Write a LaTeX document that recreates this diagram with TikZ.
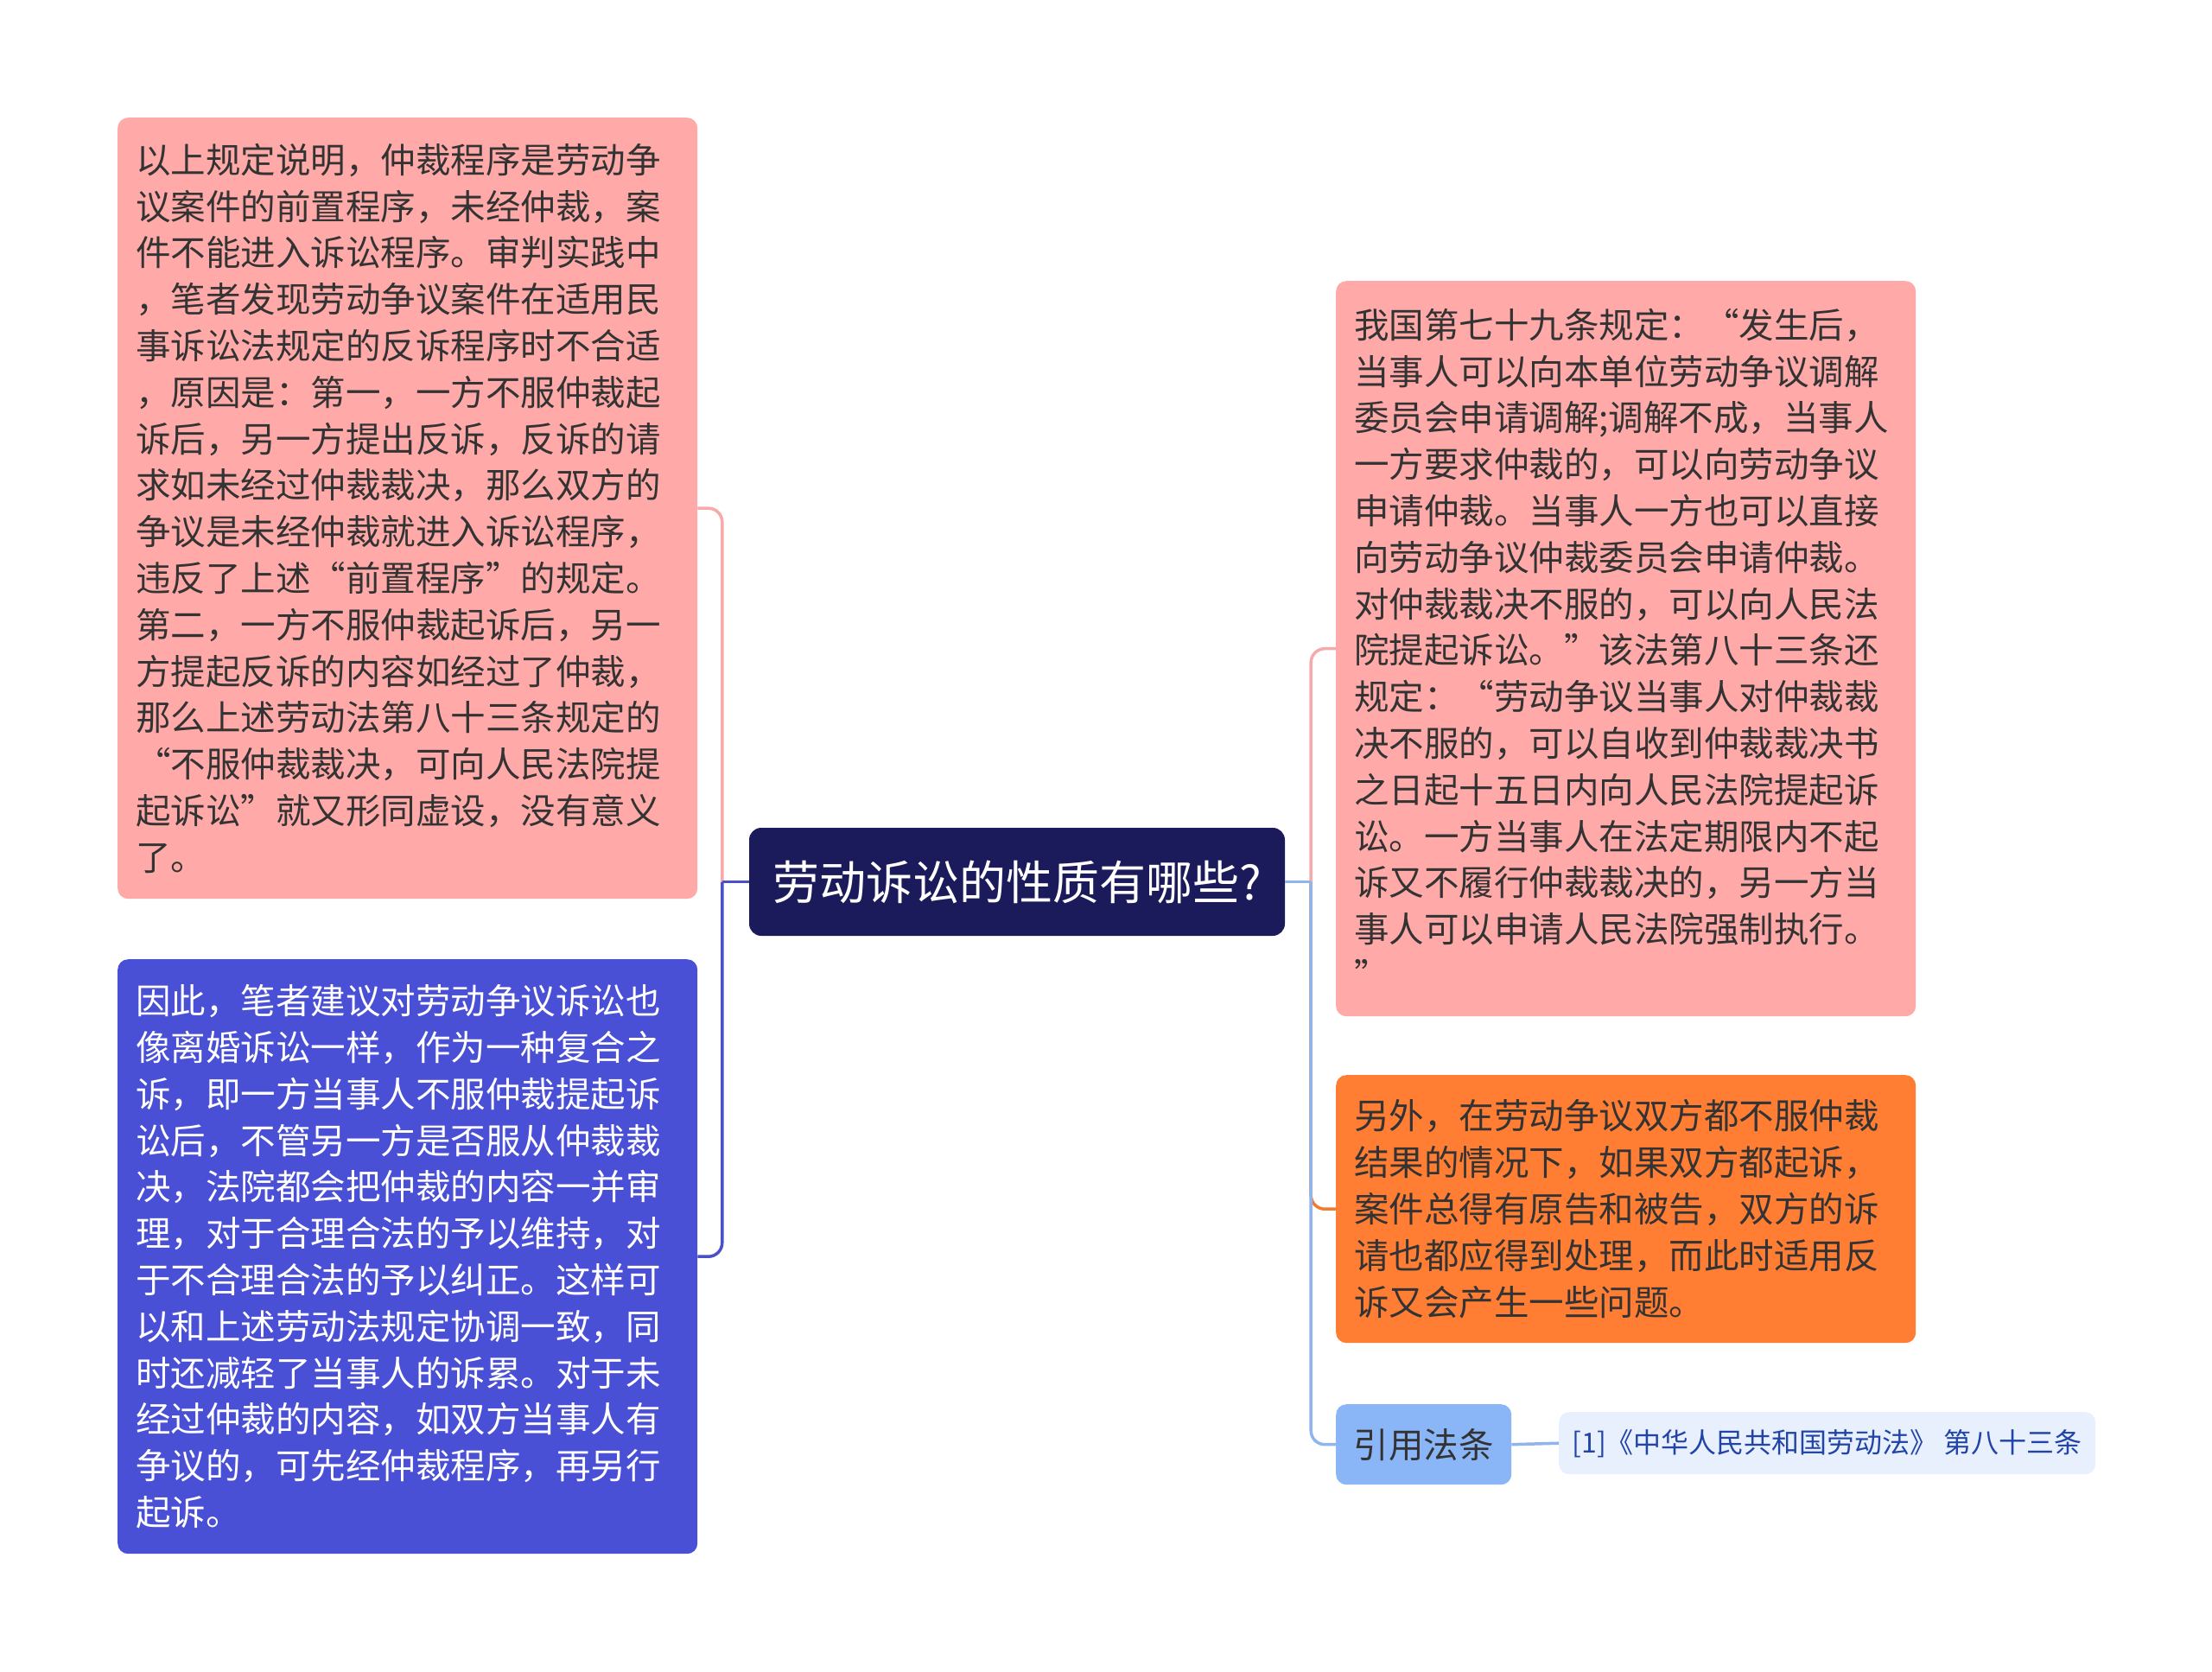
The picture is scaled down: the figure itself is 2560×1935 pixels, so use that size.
\documentclass[tikz,border=0pt]{standalone}
\usepackage{fontspec}
\setmainfont{Noto Sans CJK SC}
\definecolor{pinkbox}{HTML}{FFAAA8}
\definecolor{pinkline}{HTML}{F6AAA9}
\definecolor{bluebox}{HTML}{4A50D5}
\definecolor{blueline}{HTML}{4A50C8}
\definecolor{navy}{HTML}{1B1A5A}
\definecolor{orangebox}{HTML}{FF7E33}
\definecolor{orangeline}{HTML}{F27B30}
\definecolor{citeblue}{HTML}{8AB6F8}
\definecolor{lightline}{HTML}{8FB4EE}
\definecolor{reffill}{HTML}{E8F0FD}
\definecolor{reftext}{HTML}{2144A6}
\definecolor{textdark}{HTML}{333333}
\tikzset{
  box/.style={rounded corners=12pt, anchor=north west, inner xsep=21pt, inner ysep=0pt,
    align=left, font=\fontsize{40.5}{53.8}\selectfont},
  conn/.style={line width=3.5pt, rounded corners=16pt},
}
\begin{document}
\begin{tikzpicture}[x=1pt,y=-1pt]
\fill[white] (0,0) rectangle (2560,1935);
\useasboundingbox (0,0) rectangle (2560,1935);

% central topic
\node[fill=navy, rounded corners=14pt, minimum width=620pt, minimum height=125pt,
  inner sep=0pt, text=white, font=\fontsize{54}{62}\selectfont] (c) at (1177,1020.5) {劳动诉讼的性质有哪些?};

% left boxes
\node[box, fill=pinkbox, text=textdark, minimum width=671pt, minimum height=904pt, text width=629pt] (lp) at (136,136) {%
以上规定说明，仲裁程序是劳动争\\
议案件的前置程序，未经仲裁，案\\
件不能进入诉讼程序。审判实践中\\
，笔者发现劳动争议案件在适用民\\
事诉讼法规定的反诉程序时不合适\\
，原因是：第一，一方不服仲裁起\\
诉后，另一方提出反诉，反诉的请\\
求如未经过仲裁裁决，那么双方的\\
争议是未经仲裁就进入诉讼程序，\\
违反了上述“前置程序”的规定。\\
第二，一方不服仲裁起诉后，另一\\
方提起反诉的内容如经过了仲裁，\\
那么上述劳动法第八十三条规定的\\
“不服仲裁裁决，可向人民法院提\\
起诉讼”就又形同虚设，没有意义\\
了。};

\node[box, fill=bluebox, text=white, minimum width=671pt, minimum height=688pt, text width=629pt] (lb) at (136,1110) {%
因此，笔者建议对劳动争议诉讼也\\
像离婚诉讼一样，作为一种复合之\\
诉，即一方当事人不服仲裁提起诉\\
讼后，不管另一方是否服从仲裁裁\\
决，法院都会把仲裁的内容一并审\\
理，对于合理合法的予以维持，对\\
于不合理合法的予以纠正。这样可\\
以和上述劳动法规定协调一致，同\\
时还减轻了当事人的诉累。对于未\\
经过仲裁的内容，如双方当事人有\\
争议的，可先经仲裁程序，再另行\\
起诉。};

% right boxes
\node[box, fill=pinkbox, text=textdark, minimum width=671pt, minimum height=851pt, text width=629pt] (rp) at (1546,325) {%
我国第七十九条规定：“发生后，\\
当事人可以向本单位劳动争议调解\\
委员会申请调解;调解不成，当事人\\
一方要求仲裁的，可以向劳动争议\\
申请仲裁。当事人一方也可以直接\\
向劳动争议仲裁委员会申请仲裁。\\
对仲裁裁决不服的，可以向人民法\\
院提起诉讼。”该法第八十三条还\\
规定：“劳动争议当事人对仲裁裁\\
决不服的，可以自收到仲裁裁决书\\
之日起十五日内向人民法院提起诉\\
讼。一方当事人在法定期限内不起\\
诉又不履行仲裁裁决的，另一方当\\
事人可以申请人民法院强制执行。\\
”};

\node[box, fill=orangebox, text=textdark, minimum width=671pt, minimum height=310pt, text width=629pt] (ro) at (1546,1244) {%
另外，在劳动争议双方都不服仲裁\\
结果的情况下，如果双方都起诉，\\
案件总得有原告和被告，双方的诉\\
请也都应得到处理，而此时适用反\\
诉又会产生一些问题。};

\node[fill=citeblue, rounded corners=12pt, anchor=north west, minimum width=203pt, minimum height=93pt,
  inner sep=0pt, text=textdark, font=\fontsize{40.5}{48}\selectfont] (cite) at (1546,1625) {引用法条};

\node[fill=reffill, rounded corners=12pt, anchor=north west, minimum width=621pt, minimum height=72pt,
  inner sep=0pt, text=reftext, font=\fontsize{32}{38}\selectfont] (ref) at (1804,1634) {[1]《中华人民共和国劳动法》 第八十三条};

% junctions
\coordinate (rj) at ([xshift=30pt]c.east);
\coordinate (lj) at ([xshift=-31pt]c.west);

% right connectors
\draw[conn, pinkline] (rj) |- (rp.west);
\draw[conn, orangeline] (rj) |- (ro.west);
\draw[conn, lightline] (rj) |- (cite.west);
\draw[line width=3.5pt, lightline] (c.east) -- (rj);
\draw[line width=3.5pt, lightline] (cite.east) -- (ref.west);

% left connectors
\draw[conn, pinkline] (lj) |- (lp.east);
\draw[conn, blueline] (lj) |- (lb.east);
\draw[line width=3.5pt, blueline] (c.west) -- (lj);
\end{tikzpicture}
\end{document}
